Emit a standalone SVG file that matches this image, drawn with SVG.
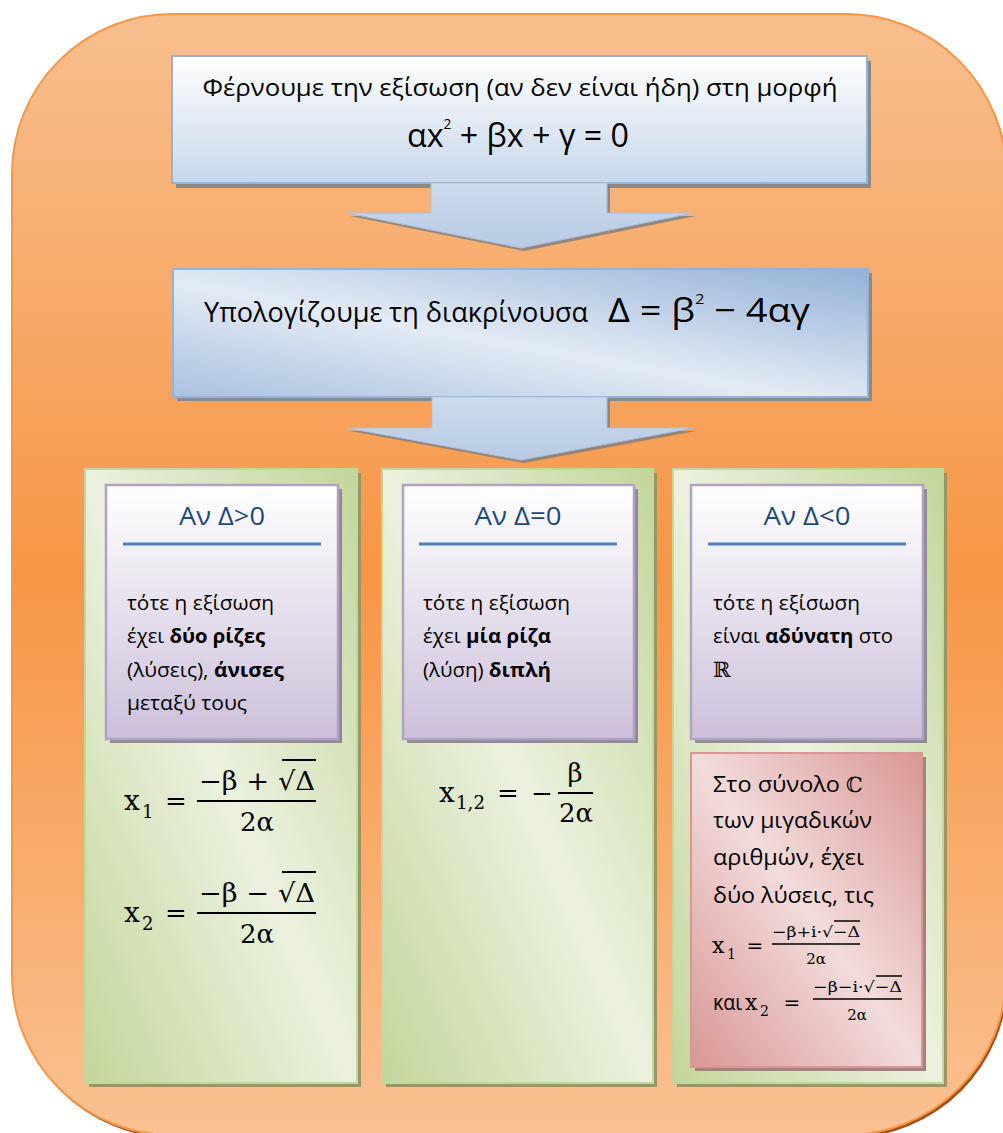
<svg xmlns="http://www.w3.org/2000/svg" width="1003" height="1133" viewBox="0 0 1003 1133">
<defs>
<linearGradient id="gBg" x1="0" y1="0" x2="0" y2="1">
 <stop offset="0" stop-color="#f8bf8e"/>
 <stop offset="0.5" stop-color="#f79646"/>
 <stop offset="1" stop-color="#fac192"/>
</linearGradient>
<linearGradient id="gBlueV" x1="0" y1="0" x2="0" y2="1">
 <stop offset="0" stop-color="#ffffff"/>
 <stop offset="1" stop-color="#c7d7eb"/>
</linearGradient>
<linearGradient id="gBlueD" x1="0" y1="1" x2="1" y2="0">
 <stop offset="0" stop-color="#a9c1df"/>
 <stop offset="0.45" stop-color="#e3ebf5"/>
 <stop offset="1" stop-color="#93b1d6"/>
</linearGradient>
<linearGradient id="gArrow" x1="0" y1="0" x2="0" y2="1">
 <stop offset="0" stop-color="#cddbee"/>
 <stop offset="1" stop-color="#b7cbe4"/>
</linearGradient>
<linearGradient id="gGreen" x1="0" y1="1" x2="1" y2="0">
 <stop offset="0" stop-color="#c3d69b"/>
 <stop offset="0.5" stop-color="#ebf1de"/>
 <stop offset="1" stop-color="#c3d69b"/>
</linearGradient>
<linearGradient id="gPurple" x1="0" y1="0" x2="0" y2="1">
 <stop offset="0" stop-color="#ffffff"/>
 <stop offset="1" stop-color="#ccc0da"/>
</linearGradient>
<linearGradient id="gRed" x1="0" y1="1" x2="1" y2="0">
 <stop offset="0" stop-color="#d99694"/>
 <stop offset="0.5" stop-color="#f2dcdb"/>
 <stop offset="1" stop-color="#d99694"/>
</linearGradient>
<style>
 text { font-family: "Open Sans", "Liberation Sans", sans-serif; fill: #000; }
 .m { font-family: "DejaVu Serif", "Liberation Serif", serif; }
 .hd { font-size: 25px; fill: #1f497d; text-anchor: middle; }
 .body { font-size: 20px; }
 .rb { font-size: 22px; }
 .b { font-weight: bold; }
 .sh { fill: #8a8a8a; }
 .gsh { fill: #9c9566; }
 .psh { fill: #8f8a94; }
 .rsh { fill: #a3837f; }
 .blue { stroke: #95b3d7; stroke-width: 2; }
 .green { fill: url(#gGreen); stroke: #c3d69b; stroke-width: 2; }
 .purple { fill: url(#gPurple); stroke: #b2a1c7; stroke-width: 2.5; }
 .red { fill: url(#gRed); stroke: #d99694; stroke-width: 2; }
 .ul { stroke: #4f81bd; stroke-width: 3; }
 .bar { stroke: #000; stroke-width: 2; }
 .bar2 { stroke: #000; stroke-width: 1.5; }
</style>
</defs>

<g id="background">
 <rect x="14" y="17" width="994" height="1121" rx="160" ry="160" fill="#a0521a"/>
 <rect x="12" y="14" width="994" height="1121" rx="160" ry="160" fill="url(#gBg)" stroke="#f79646" stroke-width="2"/>
</g>

<g id="node-form">
 <rect class="sh" x="176" y="61" width="695" height="127"/>
 <rect class="blue" x="172" y="56" width="695" height="127" fill="url(#gBlueV)"/>
 <text x="520" y="96" font-size="24" text-anchor="middle" textLength="635" lengthAdjust="spacingAndGlyphs">Φέρνουμε την εξίσωση (αν δεν είναι ήδη) στη μορφή</text>
 <text x="407" y="147" font-size="33" textLength="222" lengthAdjust="spacingAndGlyphs">αx<tspan font-size="14" dy="-18">2</tspan><tspan dy="18"> + βx + γ = 0</tspan></text>
</g>

<g id="node-discriminant">
 <rect class="sh" x="177" y="273" width="695" height="128"/>
 <rect class="blue" x="173" y="269" width="695" height="128" fill="url(#gBlueD)"/>
 <text x="204" y="322" font-size="27" textLength="384" lengthAdjust="spacingAndGlyphs">Υπολογίζουμε τη διακρίνουσα</text>
 <text x="608" y="322" font-size="33" textLength="202" lengthAdjust="spacingAndGlyphs">Δ = β<tspan font-size="14" dy="-18">2</tspan><tspan dy="18"> − 4αγ</tspan></text>
</g>

<g id="connectors">
 <polygon points="434,186 610,186 610,216 696,216 524,251 350,216 434,216" fill="#7d7d7d" opacity="0.8"/>
 <polygon points="431,183 607,183 607,213 693,213 521,248 347,213 431,213" fill="url(#gArrow)" stroke="#a9c1df" stroke-width="1"/>
 <polygon points="435,400 610,400 610,431 696,431 524,463 350,431 435,431" fill="#7d7d7d" opacity="0.8"/>
 <polygon points="432,397 607,397 607,428 693,428 521,460 347,428 432,428" fill="url(#gArrow)" stroke="#a9c1df" stroke-width="1"/>
</g>

<g id="node-positive">
 <rect class="gsh" x="89" y="473" width="272" height="614"/>
 <rect class="green" x="85" y="469" width="272" height="614"/>
 <rect class="psh" x="110" y="489" width="232" height="254"/>
 <rect class="purple" x="106" y="485" width="232" height="254"/>
 <text class="hd" x="222" y="525" textLength="86" lengthAdjust="spacingAndGlyphs">Αν Δ&gt;0</text>
 <line class="ul" x1="123" y1="544" x2="321" y2="544"/>
 <text class="body" x="127" y="610" textLength="147" lengthAdjust="spacingAndGlyphs">τότε η εξίσωση</text>
 <text class="body" x="127" y="643" textLength="138" lengthAdjust="spacingAndGlyphs">έχει <tspan class="b">δύο ρίζες</tspan></text>
 <text class="body" x="127" y="677" textLength="157" lengthAdjust="spacingAndGlyphs">(λύσεις), <tspan class="b">άνισες</tspan></text>
 <text class="body" x="127" y="710" textLength="120" lengthAdjust="spacingAndGlyphs">μεταξύ τους</text>
 <text class="m" x="124" y="810" font-size="28">x</text>
 <text class="m" x="142" y="818" font-size="18">1</text>
 <text class="m" x="176" y="810" font-size="26" text-anchor="middle">=</text>
 <text class="m" x="199" y="790" font-size="26" textLength="116" lengthAdjust="spacingAndGlyphs">−β + √Δ</text>
 <line class="bar" x1="282" y1="760" x2="316" y2="760"/>
 <line class="bar" x1="197" y1="801" x2="316" y2="801"/>
 <text class="m" x="257" y="831" font-size="26" text-anchor="middle">2α</text>
 <text class="m" x="124" y="922" font-size="28">x</text>
 <text class="m" x="142" y="930" font-size="18">2</text>
 <text class="m" x="176" y="922" font-size="26" text-anchor="middle">=</text>
 <text class="m" x="199" y="902" font-size="26" textLength="116" lengthAdjust="spacingAndGlyphs">−β − √Δ</text>
 <line class="bar" x1="282" y1="872" x2="316" y2="872"/>
 <line class="bar" x1="197" y1="913" x2="316" y2="913"/>
 <text class="m" x="257" y="943" font-size="26" text-anchor="middle">2α</text>
</g>

<g id="node-zero">
 <rect class="gsh" x="386" y="473" width="271" height="614"/>
 <rect class="green" x="382" y="469" width="271" height="614"/>
 <rect class="psh" x="407" y="489" width="231" height="254"/>
 <rect class="purple" x="403" y="485" width="231" height="254"/>
 <text class="hd" x="518" y="525" textLength="87" lengthAdjust="spacingAndGlyphs">Αν Δ=0</text>
 <line class="ul" x1="419" y1="544" x2="617" y2="544"/>
 <text class="body" x="423" y="610" textLength="147" lengthAdjust="spacingAndGlyphs">τότε η εξίσωση</text>
 <text class="body" x="423" y="643" textLength="128" lengthAdjust="spacingAndGlyphs">έχει <tspan class="b">μία ρίζα</tspan></text>
 <text class="body" x="423" y="677" textLength="128" lengthAdjust="spacingAndGlyphs">(λύση) <tspan class="b">διπλή</tspan></text>
 <text class="m" x="439" y="802" font-size="28">x</text>
 <text class="m" x="456" y="809" font-size="18" textLength="29" lengthAdjust="spacingAndGlyphs">1,2</text>
 <text class="m" x="508" y="802" font-size="26" text-anchor="middle">=</text>
 <text class="m" x="542" y="802" font-size="26" text-anchor="middle">−</text>
 <line class="bar" x1="558" y1="793" x2="593" y2="793"/>
 <text class="m" x="575" y="782" font-size="26" text-anchor="middle">β</text>
 <text class="m" x="576" y="822" font-size="26" text-anchor="middle">2α</text>
</g>

<g id="node-negative">
 <rect class="gsh" x="677" y="473" width="270" height="614"/>
 <rect class="green" x="673" y="469" width="270" height="614"/>
 <rect class="psh" x="695" y="489" width="232" height="254"/>
 <rect class="purple" x="691" y="485" width="232" height="254"/>
 <text class="hd" x="807" y="525" textLength="87" lengthAdjust="spacingAndGlyphs">Αν Δ&lt;0</text>
 <line class="ul" x1="708" y1="544" x2="906" y2="544"/>
 <text class="body" x="713" y="610" textLength="147" lengthAdjust="spacingAndGlyphs">τότε η εξίσωση</text>
 <text class="body" x="713" y="643" textLength="180" lengthAdjust="spacingAndGlyphs">είναι <tspan class="b">αδύνατη</tspan> στο</text>
 <text class="m" x="713" y="677" font-size="21">ℝ</text>
</g>

<g id="node-complex">
 <rect class="rsh" x="695" y="757" width="231" height="314"/>
 <rect class="red" x="691" y="753" width="231" height="314"/>
 <text class="rb" x="713" y="792" textLength="127" lengthAdjust="spacingAndGlyphs">Στο σύνολο</text>
 <text class="m" x="846" y="792" font-size="21">ℂ</text>
 <text class="rb" x="713" y="828" textLength="159" lengthAdjust="spacingAndGlyphs">των μιγαδικών</text>
 <text class="rb" x="713" y="865" textLength="151" lengthAdjust="spacingAndGlyphs">αριθμών, έχει</text>
 <text class="rb" x="713" y="903" textLength="161" lengthAdjust="spacingAndGlyphs">δύο λύσεις, τις</text>
 <text class="m" x="712" y="953" font-size="22">x</text>
 <text class="m" x="727" y="959" font-size="14">1</text>
 <text class="m" x="755" y="953" font-size="20" text-anchor="middle">=</text>
 <text class="m" x="772" y="937" font-size="15" textLength="88" lengthAdjust="spacingAndGlyphs">−β+i·√−Δ</text>
 <line class="bar2" x1="834" y1="921" x2="860" y2="921"/>
 <line class="bar2" x1="772" y1="944" x2="860" y2="944"/>
 <text class="m" x="816" y="964" font-size="15" text-anchor="middle">2α</text>
 <text class="rb" x="713" y="1010" textLength="29" lengthAdjust="spacingAndGlyphs">και</text>
 <text class="m" x="745" y="1010" font-size="22">x</text>
 <text class="m" x="760" y="1016" font-size="14">2</text>
 <text class="m" x="792" y="1010" font-size="20" text-anchor="middle">=</text>
 <text class="m" x="813" y="992" font-size="15" textLength="89" lengthAdjust="spacingAndGlyphs">−β−i·√−Δ</text>
 <line class="bar2" x1="876" y1="976" x2="902" y2="976"/>
 <line class="bar2" x1="813" y1="999" x2="902" y2="999"/>
 <text class="m" x="857" y="1020" font-size="15" text-anchor="middle">2α</text>
</g>
</svg>
